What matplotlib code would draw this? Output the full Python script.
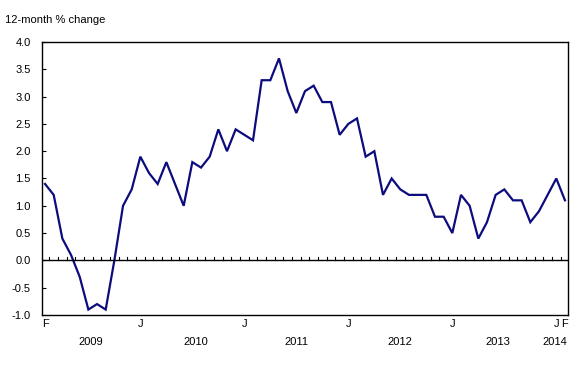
import matplotlib
matplotlib.use('Agg')
import matplotlib.pyplot as plt
import matplotlib.transforms as mtransforms

plt.rcParams['font.family'] = ['Liberation Sans', 'DejaVu Sans']

# Variacion en 12 meses, de febrero 2009 a febrero 2014
valores = [1.4, 1.2, 0.4, 0.1, -0.3, -0.9, -0.8, -0.9, 0.0, 1.0, 1.3,
           1.9, 1.6, 1.4, 1.8, 1.4, 1.0, 1.8, 1.7, 1.9, 2.4, 2.0, 2.4,
           2.3, 2.2, 3.3, 3.3, 3.7, 3.1, 2.7, 3.1, 3.2, 2.9, 2.9, 2.3,
           2.5, 2.6, 1.9, 2.0, 1.2, 1.5, 1.3, 1.2, 1.2, 1.2, 0.8, 0.8,
           0.5, 1.2, 1.0, 0.4, 0.7, 1.2, 1.3, 1.1, 1.1, 0.7, 0.9, 1.2,
           1.5, 1.1]

etiquetas_mes = ['F', 'J', 'J', 'J', 'J', 'J', 'F']
pos_mes = [0, 11, 23, 35, 47, 59, 60]
anios = ['2009', '2010', '2011', '2012', '2013', '2014']
pos_anio = [5.3, 17.4, 29.0, 41.0, 52.3, 58.8]
yticks = [-1.0, -0.5, 0.0, 0.5, 1.0, 1.5, 2.0, 2.5, 3.0, 3.5, 4.0]

fig = plt.figure(figsize=(5.88, 3.8), dpi=100)
ax = fig.add_axes([42 / 588, 1 - 315 / 380, 526 / 588, 273 / 380])

meses = list(range(len(valores)))
ax.plot(meses, valores, color='#0c0c7e', linewidth=1.6, solid_joinstyle='miter')
ax.axhline(0, color='black', linewidth=1.0)

# marcas de mes sobre la linea del cero
for m in range(len(valores) - 1):
    ax.plot([m + 0.5, m + 0.5], [0, 0.055], color='black', linewidth=0.8)

ax.set_xlim(-0.35, len(valores) - 1 + 0.35)
ax.set_ylim(-1.0, 4.0)
ax.set_yticks(yticks)
ax.set_yticklabels([f'{v:.1f}' for v in yticks], fontsize=8)
ax.tick_params(axis='y', direction='in', length=3, width=0.8, pad=8)

ax.set_xticks(pos_mes)
ax.set_xticklabels(etiquetas_mes, fontsize=8)
ax.tick_params(axis='x', length=0, pad=3)

for s in ax.spines.values():
    s.set_linewidth(1.0)

trans = mtransforms.blended_transform_factory(ax.transData, fig.transFigure)
for a, p in zip(anios, pos_anio):
    ax.text(p, 1 - 342 / 380, a, transform=trans, ha='center', va='center', fontsize=8)

fig.text(5 / 588, 1 - 20 / 380, '12-month % change', fontsize=8, ha='left', va='center')

fig.savefig('out.png', dpi=100)
